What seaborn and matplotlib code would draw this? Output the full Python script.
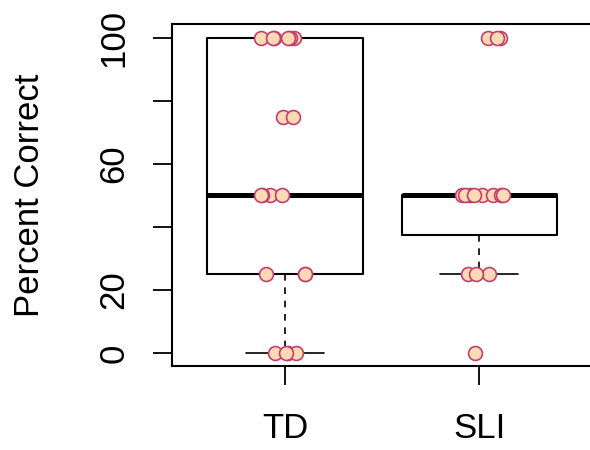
import numpy as np
import pandas as pd
import seaborn as sns
import matplotlib
matplotlib.use('Agg')
import matplotlib.pyplot as plt

# scores
groups = ['TD', 'SLI']
td_scores = [0, 0, 0, 0, 25, 25, 25, 50, 50, 50, 50, 75, 75,
             100, 100, 100, 100, 100, 100]
sli_scores = [0, 25, 25, 25, 50, 50, 50, 50, 50, 50, 50, 50,
              100, 100, 100]
y_ticks = [0, 20, 40, 60, 80, 100]
y_ticklabels = ['0', '20', '', '60', '', '100']

df = pd.DataFrame({
    'group': ['TD'] * len(td_scores) + ['SLI'] * len(sli_scores),
    'pct': td_scores + sli_scores,
})

sns.set_style('ticks')
plt.rcParams['font.family'] = ['Liberation Sans', 'DejaVu Sans']

fig = plt.figure(figsize=(5.9, 4.5), dpi=100)
ax = fig.add_axes([172 / 590, 84 / 450, 420 / 590, 342 / 450])

sns.boxplot(data=df, x='group', y='pct', order=groups, ax=ax,
            width=0.8, fill=False, color='black', showfliers=False,
            linewidth=1.5,
            whiskerprops={'linestyle': (0, (4, 4)), 'linewidth': 1.2},
            capprops={'linewidth': 1.2},
            medianprops={'linewidth': 3.6, 'color': 'black'})

np.random.seed(3)
sns.stripplot(data=df, x='group', y='pct', order=groups, ax=ax,
              jitter=0.13, size=10, color='#fdd9b5', edgecolor='#c0406e',
              linewidth=1.2, zorder=5)

ax.set_xlim(-0.582, 1.58)
ax.set_ylim(-4.1, 104.4)
ax.set_yticks(y_ticks)
ax.set_yticklabels(y_ticklabels, rotation=90, va='center')
ax.tick_params(axis='both', labelsize=25, length=14, width=1.3,
               colors='black')
ax.tick_params(axis='y', pad=16)
ax.tick_params(axis='x', pad=19)
ax.set_xlabel('')
ax.set_ylabel('Percent Correct', fontsize=25, color='black')
ax.yaxis.set_label_coords(-0.30, 0.5)
for s in ax.spines.values():
    s.set_linewidth(1.5)
    s.set_color('black')

plt.savefig('out.png', dpi=100)
plt.close()
